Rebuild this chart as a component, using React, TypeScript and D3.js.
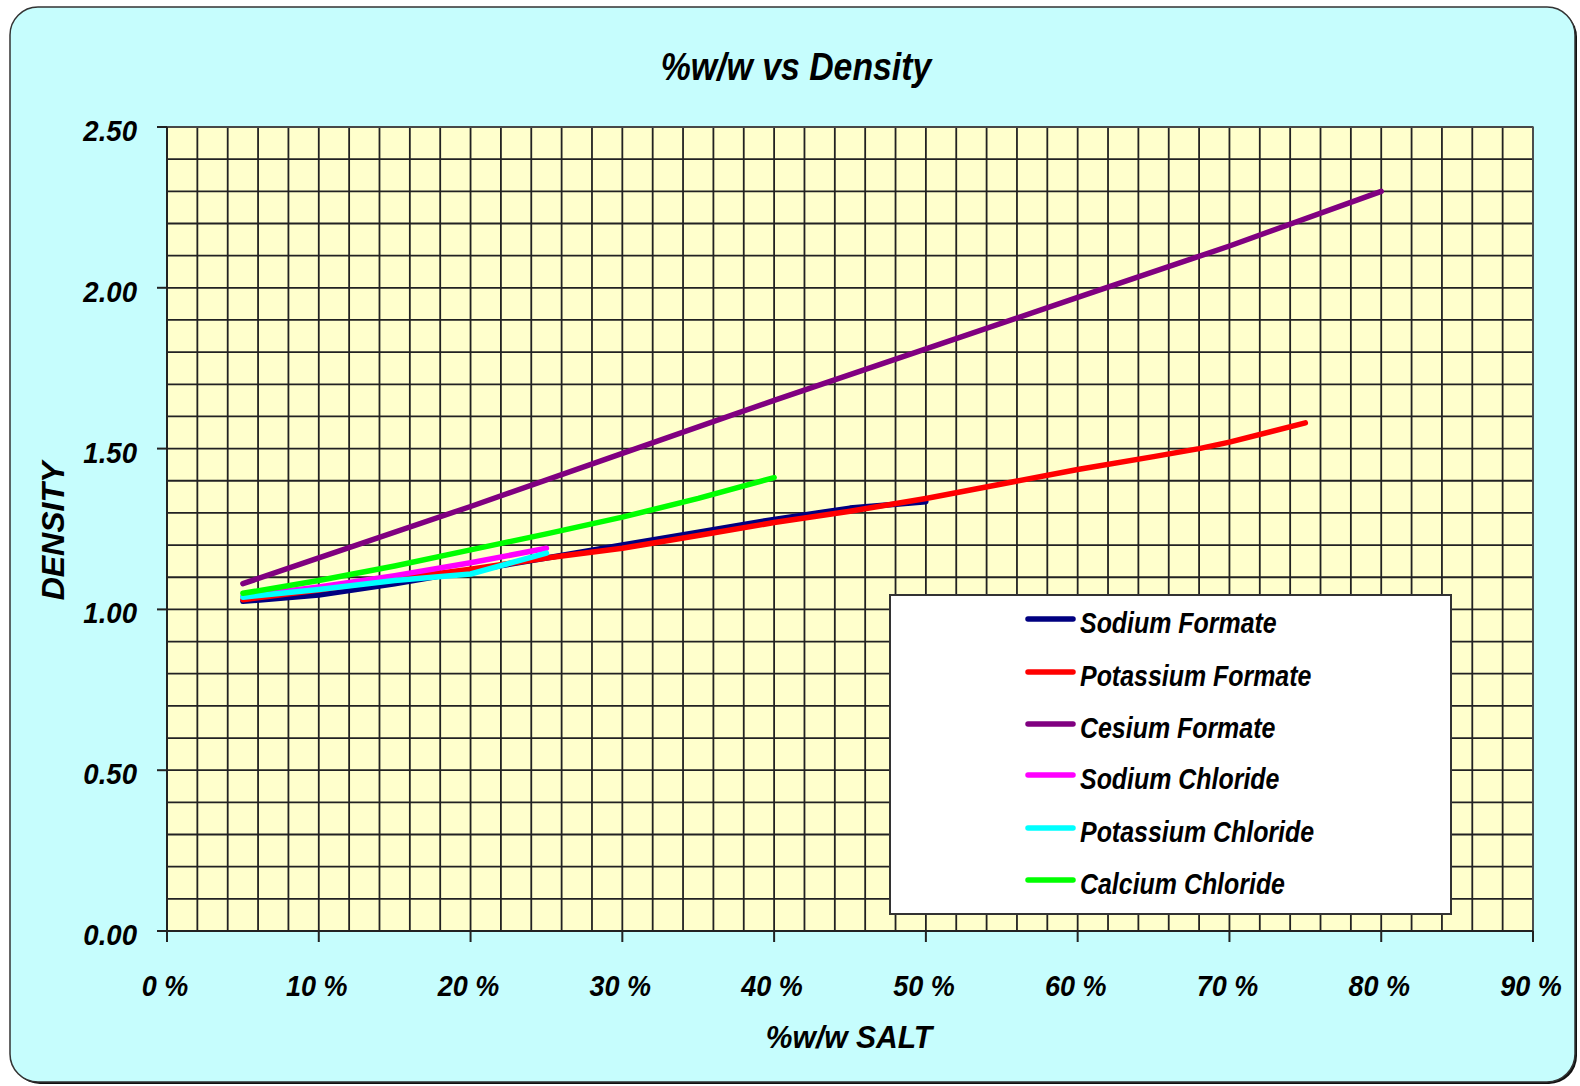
import React from "react";
import * as d3 from "d3";

// Salt concentration (% w/w) against brine density
const sodiumFormate: [number, number][] = [
  [5, 1.025], [10, 1.045], [15, 1.08], [20, 1.12], [25, 1.16], [30, 1.2],
  [35, 1.24], [40, 1.28], [45, 1.315], [50, 1.335],
];
const potassiumFormate: [number, number][] = [
  [5, 1.03], [10, 1.06], [15, 1.095], [20, 1.125], [25, 1.16], [30, 1.19],
  [35, 1.23], [40, 1.27], [45, 1.305], [50, 1.345], [55, 1.39], [60, 1.435],
  [65, 1.475], [68, 1.5], [70, 1.52], [75, 1.58],
];
const cesiumFormate: [number, number][] = [
  [5, 1.08], [10, 1.16], [20, 1.32], [30, 1.485], [40, 1.65], [50, 1.81],
  [60, 1.97], [70, 2.13], [80, 2.3],
];
const sodiumChloride: [number, number][] = [
  [5, 1.04], [10, 1.07], [15, 1.105], [20, 1.145], [25, 1.19],
];
const potassiumChloride: [number, number][] = [
  [5, 1.038], [10, 1.062], [15, 1.09], [20, 1.11], [25, 1.175],
];
const calciumChloride: [number, number][] = [
  [5, 1.05], [10, 1.09], [15, 1.135], [20, 1.185], [25, 1.235], [30, 1.287],
  [35, 1.345], [40, 1.41],
];

const seriesNames = [
  "Sodium Formate",
  "Potassium Formate",
  "Cesium Formate",
  "Sodium Chloride",
  "Potassium Chloride",
  "Calcium Chloride",
];
const seriesColors = ["#000080", "#FF0000", "#800080", "#FF00FF", "#00FFFF", "#00FF00"];
const seriesData = [
  sodiumFormate,
  potassiumFormate,
  cesiumFormate,
  sodiumChloride,
  potassiumChloride,
  calciumChloride,
];

const xTicks = [0, 10, 20, 30, 40, 50, 60, 70, 80, 90];
const yTicks = [0, 0.5, 1.0, 1.5, 2.0, 2.5];

const W = 1580;
const H = 1086;
const plot = { left: 167, right: 1533, top: 127, bottom: 931 };
const FONT = "'Liberation Sans', Arial, sans-serif";

export default function App() {
  const x = d3.scaleLinear().domain([0, 90]).range([plot.left, plot.right]);
  const y = d3.scaleLinear().domain([0, 2.5]).range([plot.bottom, plot.top]);
  const line = d3
    .line<[number, number]>()
    .x((d) => x(d[0]))
    .y((d) => y(d[1]));

  const vGrid = d3.range(0, 90.001, 2);
  const hGrid = d3.range(0, 2.5001, 0.1);

  const textStyle = {
    fontFamily: FONT,
    fontWeight: 700,
    fontStyle: "italic" as const,
    fill: "#000",
  };

  const legendX = 890;
  const legendY = 595;
  const legendW = 561;
  const legendH = 319;
  const rowY = [619, 672, 724, 775, 828, 880];

  return (
    <svg
      width={W}
      height={H}
      style={{ position: "absolute", left: 0, top: 0, background: "#fff" }}
    >
      {/* outer chart frame with drop shadow */}
      <rect x={12} y={9} width={1565} height={1075} rx={28} fill="#111" />
      <rect x={10} y={7} width={1565} height={1075} rx={28} fill="#C6FDFD" stroke="#333" strokeWidth={1.5} />

      {/* plot area */}
      <rect
        x={plot.left}
        y={plot.top}
        width={plot.right - plot.left}
        height={plot.bottom - plot.top}
        fill="#FFFFCC"
      />
      <g stroke="#222" strokeWidth={1.8}>
        {vGrid.map((v) => (
          <line key={"v" + v} x1={x(v)} x2={x(v)} y1={plot.top} y2={plot.bottom} />
        ))}
        {hGrid.map((v) => (
          <line key={"h" + v} x1={plot.left} x2={plot.right} y1={y(v)} y2={y(v)} />
        ))}
      </g>
      <rect
        x={plot.left}
        y={plot.top}
        width={plot.right - plot.left}
        height={plot.bottom - plot.top}
        fill="none"
        stroke="#555"
        strokeWidth={1.5}
      />

      {/* axes */}
      <g stroke="#222" strokeWidth={2}>
        <line x1={plot.left} x2={plot.right} y1={plot.bottom} y2={plot.bottom} />
        <line x1={plot.left} x2={plot.left} y1={plot.top} y2={plot.bottom} />
        {xTicks.map((t) => (
          <line key={"xt" + t} x1={x(t)} x2={x(t)} y1={plot.bottom} y2={plot.bottom + 11} />
        ))}
        {yTicks.map((t) => (
          <line key={"yt" + t} x1={plot.left - 10} x2={plot.left} y1={y(t)} y2={y(t)} />
        ))}
      </g>

      {/* tick labels */}
      {xTicks.map((t) => (
        <text
          key={"xl" + t}
          transform={`translate(${x(t) - 2},${996}) scale(0.9,1)`}
          textAnchor="middle"
          fontSize={30}
          style={textStyle}
        >
          {`${t} %`}
        </text>
      ))}
      {yTicks.map((t) => (
        <text
          key={"yl" + t}
          transform={`translate(${137},${y(t) + 14}) scale(0.92,1)`}
          textAnchor="end"
          fontSize={30}
          style={textStyle}
        >
          {t.toFixed(2)}
        </text>
      ))}

      {/* series */}
      {seriesData.map((d, i) => (
        <path
          key={seriesNames[i]}
          d={line(d) ?? undefined}
          fill="none"
          stroke={seriesColors[i]}
          strokeWidth={5.5}
          strokeLinejoin="round"
          strokeLinecap="round"
        />
      ))}

      {/* titles */}
      <text
        transform={`translate(796,80) scale(0.89,1)`}
        textAnchor="middle"
        fontSize={38}
        style={textStyle}
      >
        %w/w vs Density
      </text>
      <text
        transform={`translate(849,1048) scale(0.97,1)`}
        textAnchor="middle"
        fontSize={31}
        style={textStyle}
      >
        %w/w SALT
      </text>
      <text
        transform={`translate(64,531) rotate(-90) scale(1,1)`}
        textAnchor="middle"
        fontSize={32}
        style={textStyle}
      >
        DENSITY
      </text>

      {/* legend */}
      <rect
        x={legendX}
        y={legendY}
        width={legendW}
        height={legendH}
        fill="#fff"
        stroke="#333"
        strokeWidth={2}
      />
      {seriesNames.map((name, i) => (
        <g key={"lg" + name}>
          <line
            x1={1028}
            x2={1073}
            y1={rowY[i]}
            y2={rowY[i]}
            stroke={seriesColors[i]}
            strokeWidth={5.5}
            strokeLinecap="round"
          />
          <text
            transform={`translate(1080,${rowY[i] + 14}) scale(0.86,1)`}
            fontSize={29}
            style={textStyle}
          >
            {name}
          </text>
        </g>
      ))}
    </svg>
  );
}
